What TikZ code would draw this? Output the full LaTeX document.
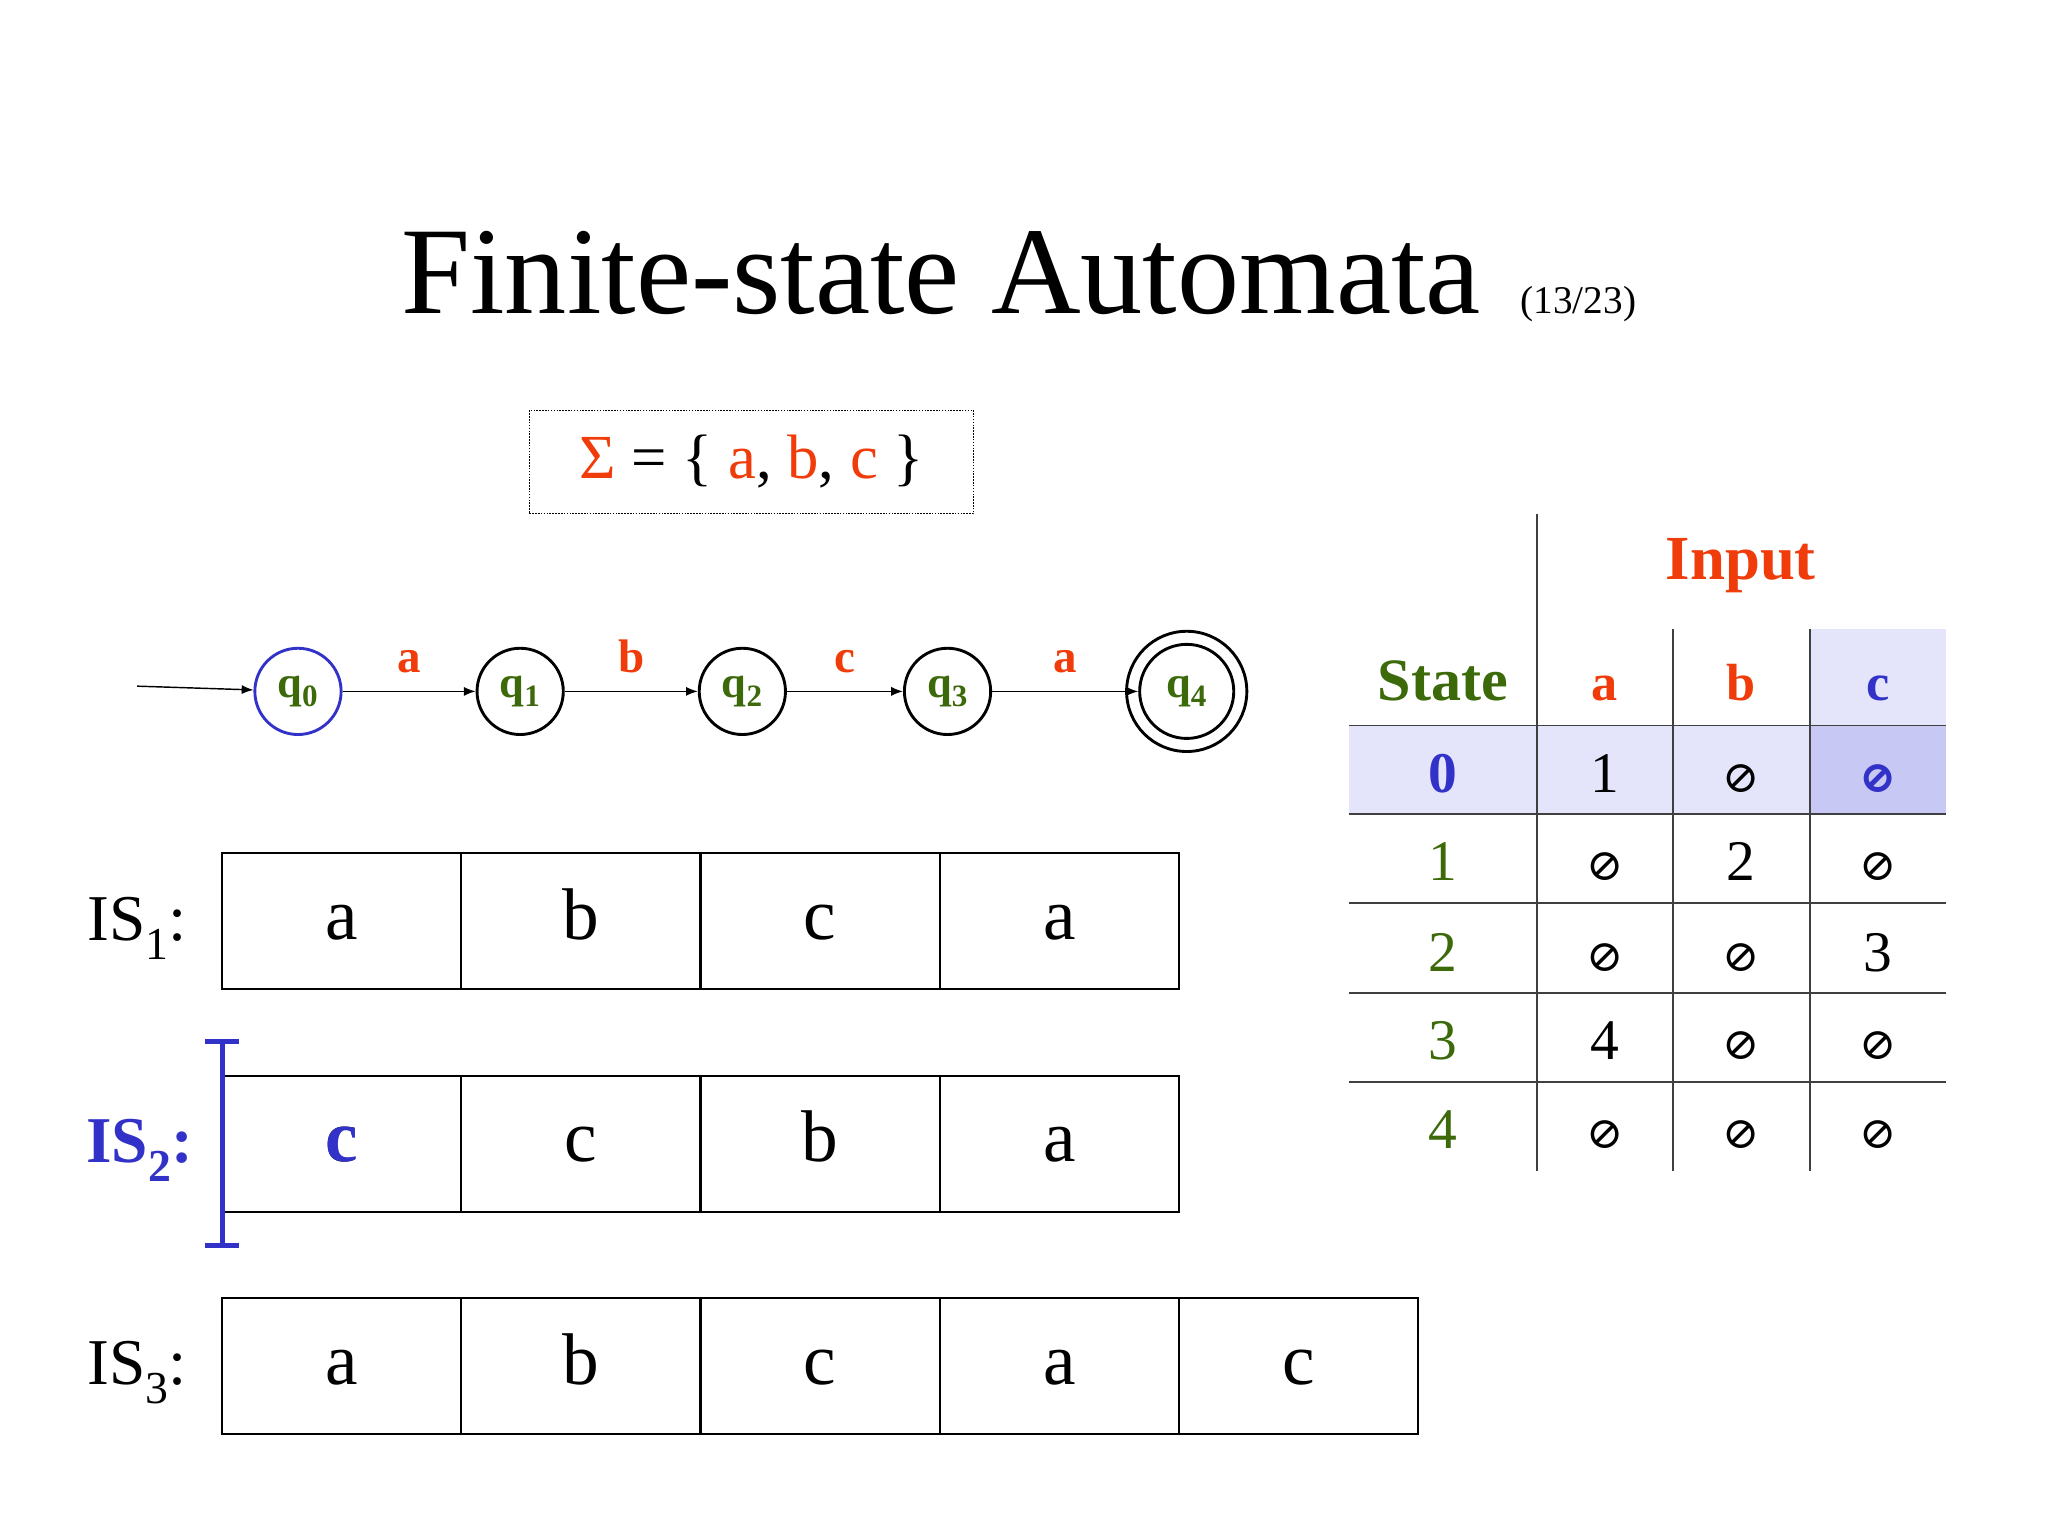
\documentclass[tikz,border=0pt]{standalone}
\usepackage{fontspec}
\setmainfont{Liberation Serif}
\newfontfamily\symf{DejaVu Serif}
\usetikzlibrary{arrows.meta}
\definecolor{tred}{RGB}{240,60,10}
\definecolor{tgreen}{RGB}{60,105,10}
\definecolor{tblue}{RGB}{50,50,200}
\definecolor{lav}{RGB}{228,229,250}
\definecolor{lavd}{RGB}{200,200,245}
\tikzset{
 st/.style={circle,draw,line width=2.2pt,minimum size=66pt,inner sep=0pt,text=tgreen,font=\fontsize{34}{36}\selectfont\bfseries},
 el/.style={text=tred,font=\fontsize{36}{38}\selectfont\bfseries},
 tr/.style={-{Latex[length=9pt,width=7pt]},line width=1.1pt},
 cell/.style={draw,line width=1.6pt,minimum width=183pt,minimum height=104pt,inner sep=0pt,text height=28pt,text depth=0pt,font=\fontsize{56}{60}\selectfont},
 isl/.style={font=\fontsize{50}{52}\selectfont},
 tx/.style={font=\fontsize{44}{46}\selectfont,text height=30pt,text depth=0pt},
}
\begin{document}
\begin{tikzpicture}[x=1pt,y=-1pt]
\useasboundingbox (0,0) rectangle (1567,1175.5);
\node[font=\fontsize{95}{100}\selectfont,anchor=base] (title) at (720,240) {Finite-state Automata};
\node[font=\fontsize{30}{32}\selectfont,anchor=base west] (num) at (1160,240) {(13/23)};
\node[draw,densely dotted,line width=1.2pt,minimum width=340pt,minimum height=79pt,font=\fontsize{48}{50}\selectfont] (sig) at (575,353.5) {\textcolor{tred}{Σ} = \{ \textcolor{tred}{a}, \textcolor{tred}{b}, \textcolor{tred}{c} \}};
% automaton
\node[st,draw=tblue] (q0) at (228,529) {q\textsubscript{0}};
\node[st] (q1) at (398,529) {q\textsubscript{1}};
\node[st] (q2) at (568,529) {q\textsubscript{2}};
\node[st] (q3) at (725,529) {q\textsubscript{3}};
\node[st,minimum size=72pt] (q4) at (908,529) {q\textsubscript{4}};
\draw[line width=2.2pt] (q4) circle (46pt);
\coordinate (init) at (105,525);
\draw[tr] (init) -- (q0);
\draw[tr] (q0) -- node[el,above=10pt]{a} (q1);
\draw[tr] (q1) -- node[el,above=10pt]{b} (q2);
\draw[tr] (q2) -- node[el,above=10pt]{c} (q3);
\draw[tr] (q3) -- node[el,above=10pt]{a} (q4);
% table shading
\fill[lav] (1385,481) rectangle (1489,555);
\fill[lav] (1032,555) rectangle (1489,623);
\fill[lavd] (1385,555) rectangle (1489,623);
\draw[line width=1.3pt,black!75] (1176,393) -- (1176,896);
\foreach \x in {1280,1385} \draw[line width=1.3pt,black!75] (\x,481) -- (\x,896);
\foreach \y in {555,623,691,760,828} \draw[line width=1.3pt,black!75] (1032,\y) -- (1489,\y);
\node[text=tred,font=\fontsize{48}{50}\selectfont\bfseries] (inp) at (1332,433) {Input};
\node[tx,text=tgreen,font=\fontsize{46}{50}\selectfont\bfseries] (sth) at (1104,521) {State};
\node[tx,text=tred,font=\fontsize{40}{42}\selectfont\bfseries] (ha) at (1228,521) {a};
\node[tx,text=tred,font=\fontsize{40}{42}\selectfont\bfseries] (hb) at (1332,521) {b};
\node[tx,text=tblue,font=\fontsize{40}{42}\selectfont\bfseries] (hc) at (1437,521) {c};
\def\E{{\symf\fontsize{34}{36}\selectfont ⊘}}
\node[tx,text=tblue,font=\fontsize{44}{46}\selectfont\bfseries] (r0) at (1104,591) {0};
\node[tx] (r0a) at (1228,591) {1};
\node[tx] (r0b) at (1332,591) {\E};
\node[tx,text=tblue] (r0c) at (1437,591) {{\symf\bfseries\fontsize{34}{36}\selectfont ⊘}};
\node[tx,text=tgreen] (r1) at (1104,659) {1};
\node[tx] (r1a) at (1228,659) {\E};
\node[tx] (r1b) at (1332,659) {2};
\node[tx] (r1c) at (1437,659) {\E};
\node[tx,text=tgreen] (r2) at (1104,728) {2};
\node[tx] (r2a) at (1228,728) {\E};
\node[tx] (r2b) at (1332,728) {\E};
\node[tx] (r2c) at (1437,728) {3};
\node[tx,text=tgreen] (r3) at (1104,796) {3};
\node[tx] (r3a) at (1228,796) {4};
\node[tx] (r3b) at (1332,796) {\E};
\node[tx] (r3c) at (1437,796) {\E};
\node[tx,text=tgreen] (r4) at (1104,864) {4};
\node[tx] (r4a) at (1228,864) {\E};
\node[tx] (r4b) at (1332,864) {\E};
\node[tx] (r4c) at (1437,864) {\E};
% tapes
\foreach \l [count=\i] in {a,b,c,a} \node[cell] (t1\i) at ({170+183*(\i-0.5)},705) {\l};
\foreach \l [count=\i] in {c,c,b,a} \node[cell] (t2\i) at ({170+183*(\i-0.5)},875) {\l};
\node[cell,text=tblue,font=\fontsize{56}{60}\selectfont\bfseries] at (t21) {c};
\foreach \l [count=\i] in {a,b,c,a,c} \node[cell] (t3\i) at ({170+183*(\i-0.5)},1045) {\l};
\node[isl] (l1) at (105,710) {IS\textsubscript{1}:};
\node[isl,text=tblue,font=\fontsize{50}{52}\selectfont\bfseries] (l2) at (107,880) {IS\textsubscript{2}:};
\node[isl] (l3) at (105,1050) {IS\textsubscript{3}:};
\draw[tblue,line width=4pt] (170,797) -- (170,953) (157,797) -- (183,797) (157,953) -- (183,953);
\end{tikzpicture}
\end{document}
